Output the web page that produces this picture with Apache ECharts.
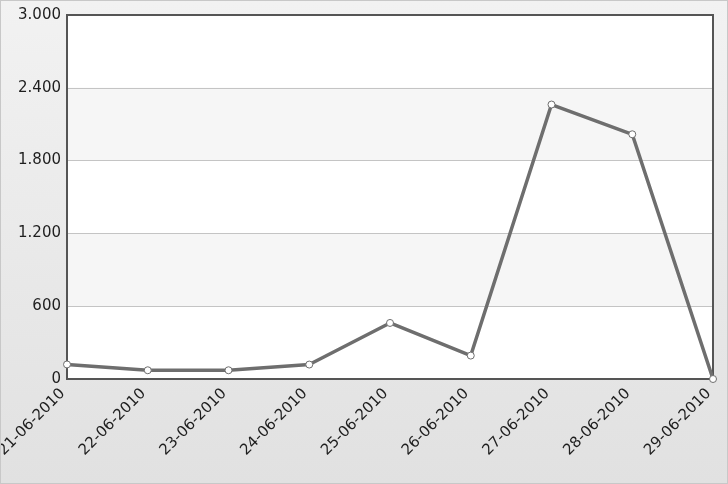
<!DOCTYPE html>
<html>
<head>
<meta charset="utf-8">
<script src="https://cdn.jsdelivr.net/npm/echarts@6/dist/echarts.min.js"></script>
<style>
  html, body { margin: 0; padding: 0; }
  #chart { width: 728px; height: 484px; box-sizing: border-box; border: 1px solid #c8c8c8; }
</style>
</head>
<body>
<div id="chart"></div>
<script>
// data
const days = ['21-06-2010', '22-06-2010', '23-06-2010', '24-06-2010', '25-06-2010',
  '26-06-2010', '27-06-2010', '28-06-2010', '29-06-2010']
const values = [120, 72, 72, 119, 462, 193, 2262, 2017, 0]

function fmt(v) {
  // thousands separated with a dot
  return String(v).replace(/\B(?=(\d{3})+(?!\d))/g, '.')
}

const chart = echarts.init(document.getElementById('chart'))
chart.setOption({
  backgroundColor: {
    type: 'linear', x: 0, y: 0, x2: 0, y2: 1,
    colorStops: [{ offset: 0, color: '#f2f2f2' }, { offset: 1, color: '#e1e1e1' }]
  },
  animation: false,
  grid: {
    left: 66, right: 14, top: 14, bottom: 104, z: 3,
    outerBoundsMode: 'none',
    containLabel: false,
    show: true, borderColor: '#555', borderWidth: 2, backgroundColor: 'transparent'
  },
  xAxis: {
    type: 'category',
    data: days,
    boundaryGap: false,
    axisLine: { show: false },
    axisTick: { show: false },
    axisLabel: {
      rotate: 45, color: '#1e1e1e', fontSize: 15, fontFamily: 'DejaVu Sans', margin: 8,
      padding: [0, 6, 0, 0]
    }
  },
  yAxis: {
    type: 'value',
    min: 0, max: 3000, interval: 600,
    axisLine: { show: false },
    axisTick: { show: false },
    axisLabel: {
      color: '#1e1e1e', fontSize: 15, fontFamily: 'DejaVu Sans', margin: 6,
      formatter: fmt
    },
    splitLine: { lineStyle: { color: '#c4c4c4', width: 1 } },
    splitArea: { show: true, areaStyle: { color: ['#ffffff', '#f6f6f6'] } }
  },
  series: [{
    type: 'line',
    z: 4,
    data: values,
    lineStyle: { color: '#6e6e6e', width: 3.5 },
    itemStyle: { color: '#ffffff', borderColor: '#6e6e6e', borderWidth: 1 },
    symbol: 'circle',
    symbolSize: 7,
    showAllSymbol: true
  }]
})
</script>
</body>
</html>
